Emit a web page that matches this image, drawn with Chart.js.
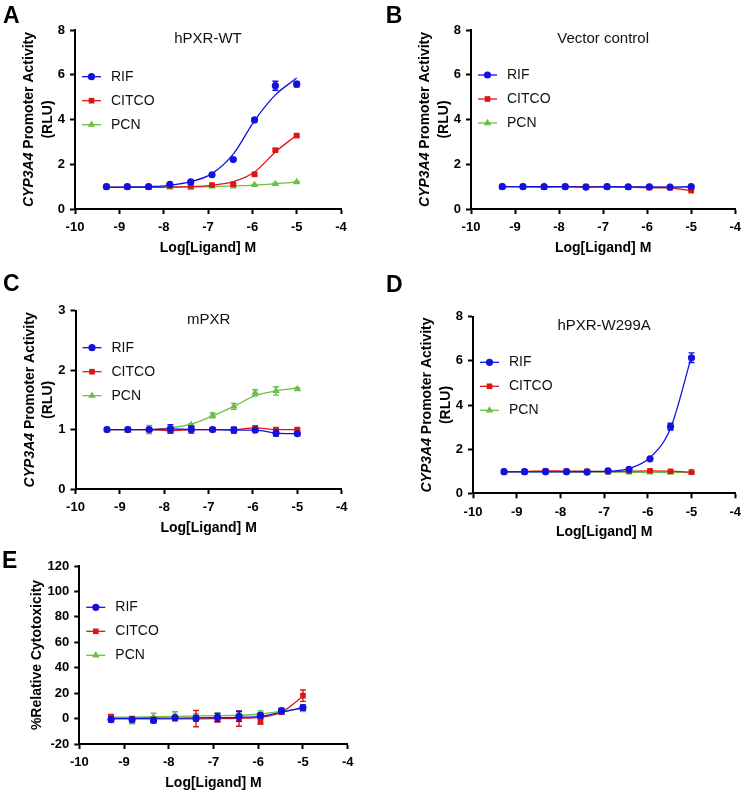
<!DOCTYPE html>
<html><head><meta charset="utf-8">
<script src="https://cdn.jsdelivr.net/npm/chart.js@4.4.0/dist/chart.umd.min.js"></script>
<style>
html,body{margin:0;padding:0;background:#fff;}
body{width:747px;height:793px;position:relative;overflow:hidden;}
canvas{position:absolute;}
</style></head><body>
<canvas id="cA" width="373" height="260" style="left:0px;top:0px"></canvas>
<canvas id="cB" width="374" height="260" style="left:373px;top:0px"></canvas>
<canvas id="cC" width="373" height="285" style="left:0px;top:260px"></canvas>
<canvas id="cD" width="374" height="285" style="left:373px;top:260px"></canvas>
<canvas id="cE" width="373" height="248" style="left:0px;top:545px"></canvas>
<script>
// ---------- DATA ----------
const logConc = [-9.29, -8.82, -8.34, -7.86, -7.39, -6.91, -6.43, -5.95, -5.48, -5.00];
const seriesNames = ['RIF', 'CITCO', 'PCN'];
const xTickVals = [-10, -9, -8, -7, -6, -5, -4];
const yTicksRLU8 = [0, 2, 4, 6, 8];
const yTicksRLU3 = [0, 1, 2, 3];
const yTicksCyto = [-20, 0, 20, 40, 60, 80, 100, 120];
const panelTitles = ['hPXR-WT', 'Vector control', 'mPXR', 'hPXR-W299A', ''];
const panelLetters = ['A', 'B', 'C', 'D', 'E'];
const xAxisTitle = 'Log[Ligand] M';

// Panel A: hPXR-WT
const aRif      = [1.00, 1.00, 1.00, 1.10, 1.21, 1.53, 2.21, 3.98, 5.51, 5.58];
const aRifErr   = [0.03, 0.03, 0.03, 0.04, 0.04, 0.05, 0.06, 0.06, 0.20, 0.12];
const aRifFit   = [0.97, 0.98, 1.00, 1.06, 1.22, 1.58, 2.45, 3.95, 5.10, 5.85];
const aCitco    = [1.00, 1.00, 0.98, 1.03, 1.03, 1.07, 1.10, 1.55, 2.63, 3.28];
const aCitcoErr = [0.02, 0.02, 0.02, 0.02, 0.03, 0.03, 0.04, 0.05, 0.06, 0.05];
const aCitcoFit = [0.97, 0.97, 0.97, 0.98, 1.00, 1.06, 1.22, 1.65, 2.55, 3.30];
const aPcn      = [0.98, 0.98, 0.97, 0.97, 0.94, 1.01, 1.01, 1.08, 1.12, 1.20];
const aPcnErr   = [0.02, 0.02, 0.02, 0.02, 0.02, 0.02, 0.02, 0.02, 0.03, 0.03];
const aPcnFit   = [0.97, 0.97, 0.97, 0.98, 0.99, 1.00, 1.03, 1.07, 1.13, 1.20];

// Panel B: Vector control
const bRif      = [1.00, 1.00, 1.00, 1.00, 0.98, 1.00, 0.99, 0.99, 0.98, 1.00];
const bRifErr   = [0.02, 0.02, 0.02, 0.02, 0.02, 0.02, 0.02, 0.02, 0.02, 0.02];
const bCitco    = [1.00, 1.00, 0.98, 1.00, 1.00, 1.00, 0.98, 0.95, 0.95, 0.82];
const bCitcoErr = [0.02, 0.02, 0.02, 0.02, 0.02, 0.02, 0.02, 0.02, 0.02, 0.02];
const bPcn      = [1.00, 0.99, 0.99, 0.99, 0.98, 0.99, 0.98, 0.98, 0.97, 0.97];
const bPcnErr   = [0.02, 0.02, 0.02, 0.02, 0.02, 0.02, 0.02, 0.02, 0.02, 0.02];

// Panel C: mPXR
const cRif      = [1.00, 1.00, 1.00, 1.01, 1.00, 1.00, 0.99, 0.99, 0.94, 0.93];
const cRifErr   = [0.02, 0.03, 0.02, 0.07, 0.06, 0.02, 0.05, 0.02, 0.05, 0.02];
const cCitco    = [1.00, 1.00, 1.00, 0.98, 1.00, 1.00, 1.00, 1.03, 1.00, 1.00];
const cCitcoErr = [0.02, 0.03, 0.02, 0.03, 0.03, 0.02, 0.03, 0.02, 0.02, 0.02];
const cPcn      = [1.00, 0.98, 1.00, 1.01, 1.08, 1.24, 1.39, 1.62, 1.65, 1.68];
const cPcnErr   = [0.02, 0.02, 0.07, 0.04, 0.02, 0.04, 0.05, 0.05, 0.07, 0.02];
const cPcnFit   = [1.00, 1.00, 1.00, 1.03, 1.09, 1.23, 1.39, 1.57, 1.65, 1.70];

// Panel D: hPXR-W299A
const dRif      = [0.98, 0.98, 0.98, 0.98, 0.96, 1.02, 1.09, 1.56, 3.02, 6.14];
const dRifErr   = [0.03, 0.03, 0.03, 0.03, 0.03, 0.03, 0.04, 0.05, 0.15, 0.22];
const dRifFit   = [0.97, 0.97, 0.97, 0.97, 0.98, 1.00, 1.12, 1.62, 2.95, 6.20];
const dCitco    = [0.98, 0.98, 1.02, 1.00, 1.00, 0.98, 1.00, 1.02, 1.00, 0.96];
const dCitcoErr = [0.02, 0.02, 0.02, 0.02, 0.02, 0.02, 0.02, 0.02, 0.02, 0.02];
const dPcn      = [0.97, 0.97, 0.97, 0.97, 0.96, 0.96, 0.95, 0.95, 0.94, 0.95];
const dPcnErr   = [0.02, 0.02, 0.02, 0.02, 0.02, 0.02, 0.02, 0.02, 0.02, 0.02];

// Panel E: % relative cytotoxicity
const eRif      = [-0.8, -0.8, -1.3, 0.8, 0.3, 1.0, 1.8, 2.4, 6.0, 8.7];
const eRifErr   = [2.0, 1.5, 2.0, 1.5, 2.0, 3.0, 4.0, 2.0, 2.0, 2.0];
const eRifFit   = [0.2, 0.2, 0.3, 0.4, 0.5, 0.7, 1.0, 1.8, 5.0, 8.8];
const eCitco    = [1.3, 0.0, -0.8, 0.0, 0.0, -0.8, 0.0, -2.4, 5.0, 18.0];
const eCitcoErr = [2.0, 1.5, 1.5, 1.5, 6.4, 2.0, 6.0, 2.0, 1.5, 4.5];
const eCitcoFit = [-0.2, -0.2, -0.2, -0.2, -0.2, -0.1, 0.2, 1.0, 5.0, 17.5];
const ePcn      = [0.5, -2.1, 1.3, 2.9, 1.8, 2.4, 3.1, 3.9, 6.3, 7.6];
const ePcnErr   = [1.5, 2.0, 3.0, 2.5, 2.0, 2.0, 2.0, 2.0, 2.0, 2.0];
const ePcnFit   = [1.0, 1.2, 1.5, 1.8, 2.0, 2.2, 2.6, 3.6, 5.8, 7.8];

// ---------- STYLE ----------
const FONT = '"Liberation Sans", Arial, Helvetica, sans-serif';
const COLORS = ['#1212e0', '#dc1616', '#6cbf45'];
const STYLES = ['circle', 'rect', 'triangle'];
const RADII = [3.6, 4.0, 4.3];
Chart.defaults.font.family = FONT;
Chart.defaults.color = '#000';

function marker(ctx, style, x, y, r) {
  ctx.beginPath();
  if (style === 'circle') ctx.arc(x, y, r, 0, Math.PI * 2);
  else if (style === 'rect') { const s = r * Math.SQRT1_2; ctx.rect(x - s, y - s, 2 * s, 2 * s); }
  else {
    ctx.moveTo(x, y - r);
    ctx.lineTo(x + r * Math.sin(2 * Math.PI / 3), y - r * Math.cos(2 * Math.PI / 3));
    ctx.lineTo(x + r * Math.sin(4 * Math.PI / 3), y - r * Math.cos(4 * Math.PI / 3));
    ctx.closePath();
  }
  ctx.fill();
}

const errPlugin = {
  id: 'errbars',
  afterDatasetDraw(chart, args) {
    const ds = chart.data.datasets[args.index];
    if (!ds.err) return;
    const ctx = chart.ctx, ys = chart.scales.y;
    ctx.save();
    ctx.strokeStyle = ds.borderColor; ctx.lineWidth = 1.4;
    args.meta.data.forEach((pt, j) => {
      const e = ds.err[j]; if (!e) return;
      const v = ds.data[j].y;
      const y1 = ys.getPixelForValue(v + e), y2 = ys.getPixelForValue(v - e), x = pt.x;
      ctx.beginPath();
      ctx.moveTo(x, y1); ctx.lineTo(x, y2);
      ctx.moveTo(x - 3, y1); ctx.lineTo(x + 3, y1);
      ctx.moveTo(x - 3, y2); ctx.lineTo(x + 3, y2);
      ctx.stroke();
    });
    ctx.restore();
  }
};

const decoPlugin = {
  id: 'deco',
  afterDraw(chart) {
    const o = chart.options.plugins.deco;
    const ctx = chart.ctx, a = chart.chartArea;
    ctx.save();
    ctx.fillStyle = '#000';
    ctx.font = 'bold 23px ' + FONT; ctx.textAlign = 'left'; ctx.textBaseline = 'alphabetic';
    ctx.fillText(o.letter, o.lx, o.ly);
    if (o.title) {
      ctx.fillStyle = '#111';
      ctx.font = '15px ' + FONT; ctx.textAlign = 'center'; ctx.textBaseline = 'middle';
      ctx.fillText(o.title, (a.left + a.right) / 2, a.top + 9);
    }
    ctx.font = '14px ' + FONT; ctx.textAlign = 'left'; ctx.textBaseline = 'middle';
    seriesNames.forEach((n, i) => {
      const y = a.top + o.legendY + i * 24;
      ctx.strokeStyle = COLORS[i]; ctx.lineWidth = 1.3;
      ctx.beginPath(); ctx.moveTo(a.left + 7, y); ctx.lineTo(a.left + 26, y); ctx.stroke();
      ctx.fillStyle = COLORS[i];
      marker(ctx, STYLES[i], a.left + 16.5, y, RADII[i]);
      ctx.fillStyle = '#111';
      ctx.fillText(n, a.left + 36, y);
    });
    // y axis title (rotated, mixed italic)
    const cy = (a.top + a.bottom) / 2;
    o.yTitle.forEach((line, li) => {
      const fonts = line.map(p => (p.it ? 'italic bold 14px ' : 'bold 14px ') + FONT);
      let total = 0;
      const widths = line.map((p, k) => { ctx.font = fonts[k]; const w = ctx.measureText(p.t).width; total += w; return w; });
      ctx.save();
      ctx.translate(a.left + o.yTitleOff[li], cy);
      ctx.rotate(-Math.PI / 2);
      ctx.fillStyle = '#000'; ctx.textAlign = 'left'; ctx.textBaseline = 'middle';
      let x = -total / 2;
      line.forEach((p, k) => { ctx.font = fonts[k]; ctx.fillText(p.t, x, 0); x += widths[k]; });
      ctx.restore();
    });
    ctx.restore();
  }
};
Chart.register(errPlugin, decoPlugin);

const rluTitle = [[{t: 'CYP3A4', it: true}, {t: ' Promoter Activity'}], [{t: '(RLU)'}]];
const cytoTitle = [[{t: '%Relative Cytotoxicity'}]];

function makePanel(p) {
  const cv = document.getElementById(p.id);
  const W = cv.width, H = cv.height, A = p.area;
  const xH = H - A.b;
  const datasets = [];
  p.series.forEach((s, i) => datasets.push({
    type: 'scatter', label: seriesNames[i],
    data: logConc.map((x, j) => ({x, y: s.mean[j]})), err: s.err,
    pointStyle: STYLES[i], pointRadius: RADII[i], pointBackgroundColor: COLORS[i],
    pointBorderColor: COLORS[i], pointBorderWidth: 0, borderColor: COLORS[i], showLine: false
  }));
  p.series.forEach((s, i) => datasets.push({
    type: 'line', label: seriesNames[i] + ' curve',
    data: logConc.map((x, j) => ({x, y: s.fit[j]})),
    borderColor: COLORS[i], borderWidth: 1.3, pointRadius: 0,
    cubicInterpolationMode: p.straight ? 'default' : 'monotone', tension: 0, fill: false
  }));
  const tickFont = {size: 13, weight: 'bold', family: FONT};
  const gridOpts = {display: true, drawOnChartArea: false, drawTicks: true, tickLength: 5, tickWidth: 2, tickColor: '#000'};
  new Chart(cv, {
    type: 'scatter',
    data: {datasets},
    options: {
      responsive: false, animation: false, devicePixelRatio: 1, events: [],
      layout: {padding: {left: 0, top: A.t, right: W - A.r, bottom: 0}},
      plugins: {
        legend: {display: false}, tooltip: {enabled: false},
        deco: {letter: p.letter, lx: p.lx, ly: p.ly, title: p.title, legendY: p.legendY,
               yTitle: p.yTitle, yTitleOff: p.yTitleOff}
      },
      scales: {
        x: {
          type: 'linear', min: -10, max: -4,
          afterBuildTicks: s => { s.ticks = xTickVals.map(v => ({value: v})); },
          ticks: {font: tickFont, color: '#000', padding: 6, maxRotation: 0, autoSkip: false},
          grid: gridOpts, border: {display: true, color: '#000', width: 2},
          title: {display: true, text: xAxisTitle, color: '#000',
                  font: {size: 14, weight: 'bold', family: FONT},
                  padding: {top: 0, bottom: xH - 39 - 8.4}},
          afterFit: s => { s.height = xH; }
        },
        y: {
          type: 'linear', min: p.yTicks[0], max: p.yTicks[p.yTicks.length - 1],
          afterBuildTicks: s => { s.ticks = p.yTicks.map(v => ({value: v})); },
          ticks: {font: tickFont, color: '#000', padding: 5, autoSkip: false},
          grid: gridOpts, border: {display: true, color: '#000', width: 2},
          afterFit: s => { s.width = A.l; }
        }
      }
    }
  });
}

makePanel({id: 'cA', letter: panelLetters[0], lx: 3, ly: 23, title: panelTitles[0],
  area: {l: 75, t: 30, r: 341, b: 209}, yTicks: yTicksRLU8, legendY: 46.7,
  yTitle: rluTitle, yTitleOff: [-45.5, -27],
  series: [{mean: aRif, err: aRifErr, fit: aRifFit}, {mean: aCitco, err: aCitcoErr, fit: aCitcoFit}, {mean: aPcn, err: aPcnErr, fit: aPcnFit}]});
makePanel({id: 'cB', letter: panelLetters[1], lx: 12.7, ly: 22.7, title: panelTitles[1],
  area: {l: 98, t: 30, r: 366, b: 209}, yTicks: yTicksRLU8, legendY: 45, straight: true,
  yTitle: rluTitle, yTitleOff: [-45.5, -27],
  series: [{mean: bRif, err: bRifErr, fit: bRif}, {mean: bCitco, err: bCitcoErr, fit: bCitco}, {mean: bPcn, err: bPcnErr, fit: bPcn}]});
makePanel({id: 'cC', letter: panelLetters[2], lx: 3, ly: 30.7, title: panelTitles[2],
  area: {l: 75.5, t: 50.7, r: 341.7, b: 229}, yTicks: yTicksRLU3, legendY: 37,
  yTitle: rluTitle, yTitleOff: [-45.5, -27],
  series: [{mean: cRif, err: cRifErr, fit: cRif}, {mean: cCitco, err: cCitcoErr, fit: cCitco}, {mean: cPcn, err: cPcnErr, fit: cPcnFit}]});
makePanel({id: 'cD', letter: panelLetters[3], lx: 13, ly: 31.7, title: panelTitles[3],
  area: {l: 100, t: 56.7, r: 366.7, b: 233.3}, yTicks: yTicksRLU8, legendY: 45.6,
  yTitle: rluTitle, yTitleOff: [-45.5, -27],
  series: [{mean: dRif, err: dRifErr, fit: dRifFit}, {mean: dCitco, err: dCitcoErr, fit: dCitco}, {mean: dPcn, err: dPcnErr, fit: dPcn}]});
makePanel({id: 'cE', letter: panelLetters[4], lx: 2, ly: 22.7, title: panelTitles[4],
  area: {l: 79.3, t: 21, r: 347.7, b: 199}, yTicks: yTicksCyto, legendY: 41.3,
  yTitle: cytoTitle, yTitleOff: [-42],
  series: [{mean: eRif, err: eRifErr, fit: eRifFit}, {mean: eCitco, err: eCitcoErr, fit: eCitcoFit}, {mean: ePcn, err: ePcnErr, fit: ePcnFit}]});
</script>
</body></html>
